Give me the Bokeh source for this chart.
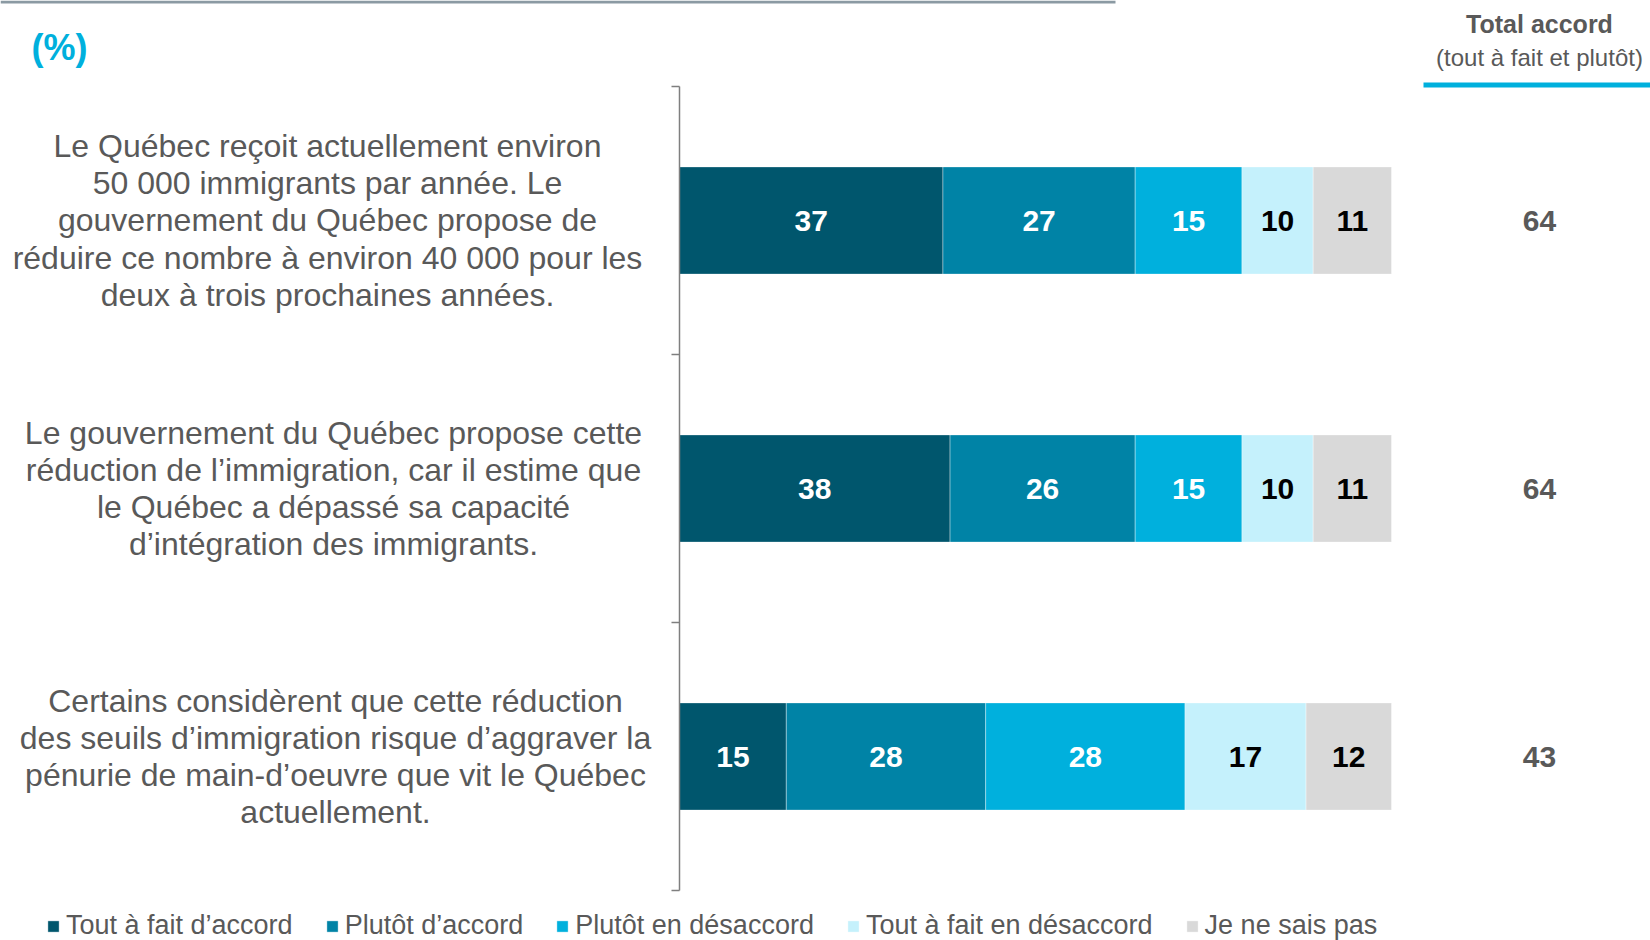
import numpy as np
from bokeh.plotting import figure
from bokeh.models import ColumnDataSource, Range1d, LinearAxis, FixedTicker, Legend, LegendItem
from bokeh.core.properties import value
from bokeh.embed import file_html
from bokeh.resources import INLINE

# ---------------- data ----------------
questions = [
    "Le Québec reçoit actuellement environ\n50 000 immigrants par année. Le\ngouvernement du Québec propose de\nréduire ce nombre à environ 40 000 pour les\ndeux à trois prochaines années.",
    "Le gouvernement du Québec propose cette\nréduction de l’immigration, car il estime que\nle Québec a dépassé sa capacité\nd’intégration des immigrants.",
    "Certains considèrent que cette réduction\ndes seuils d’immigration risque d’aggraver la\npénurie de main-d’oeuvre que vit le Québec\nactuellement.",
]
series_names = ["Tout à fait d’accord", "Plutôt d’accord", "Plutôt en désaccord",
                "Tout à fait en désaccord", "Je ne sais pas"]
tout_accord = [37, 38, 15]
plutot_accord = [27, 26, 28]
plutot_desaccord = [15, 15, 28]
tout_desaccord = [10, 10, 17]
ne_sais_pas = [11, 11, 12]

colors = ["#00566D", "#0083A6", "#00B0DD", "#C5F1FC", "#D9D9D9"]
label_colors = ["#FFFFFF", "#FFFFFF", "#FFFFFF", "#000000", "#000000"]

# ---------------- layout constants ----------------
W, H = 1650, 940
PX_PER_UNIT = 7.12
X0_PX = 679          # pixel where value 0 sits
PX_PER_ROW = 268
TOP_PX = 86          # pixel of y=3
x_start = -X0_PX / PX_PER_UNIT
x_end = (W - X0_PX) / PX_PER_UNIT
y_end = 3 + TOP_PX / PX_PER_ROW
y_start = -(H - TOP_PX - 3 * PX_PER_ROW) / PX_PER_ROW

def ypx(px):
    return y_end - px / PX_PER_ROW

def xpx(px):
    return x_start + px / PX_PER_UNIT

n = len(questions)
ypos = [n - 0.5 - i for i in range(n)]

keys = ["s0", "s1", "s2", "s3", "s4"]
series = [tout_accord, plutot_accord, plutot_desaccord, tout_desaccord, ne_sais_pas]
data = {"y": ypos}
for k, s in zip(keys, series):
    data[k] = s
src = ColumnDataSource(data)

p = figure(width=W, height=H, x_range=Range1d(x_start, x_end), y_range=Range1d(y_start, y_end),
           output_backend="svg", toolbar_location=None, x_axis_location=None, y_axis_location=None,
           min_border=0, outline_line_color=None, title=None)
p.xgrid.visible = False
p.ygrid.visible = False
p.background_fill_color = "white"

renderers = p.hbar_stack(keys, y="y", height=0.4, color=colors, source=src,
                         line_color="white", line_width=0.6, line_alpha=0.6)

# segment labels
arr = np.array(series, dtype=float)
cum = np.cumsum(arr, axis=0)
centers = cum - arr / 2
for i in range(len(series)):
    lsrc = ColumnDataSource(dict(x=centers[i], y=ypos, t=[str(v) for v in series[i]]))
    p.text(x="x", y="y", text="t", source=lsrc, text_align="center", text_baseline="middle",
           text_font=value("Liberation Sans"), text_font_style="bold",
           text_font_size="30px", text_color=label_colors[i])

# totals
totals = [a + b for a, b in zip(tout_accord, plutot_accord)]
tsrc = ColumnDataSource(dict(x=[xpx(1539)] * n, y=ypos, t=[str(v) for v in totals]))
p.text(x="x", y="y", text="t", source=tsrc, text_align="center", text_baseline="middle",
       text_font=value("Liberation Sans"), text_font_style="bold",
       text_font_size="30px", text_color="#595959")

# question labels
qx = [xpx(327), xpx(333), xpx(335)]
qsrc = ColumnDataSource(dict(x=qx, y=ypos, t=questions))
p.text(x="x", y="y", text="t", source=qsrc, text_align="center", text_baseline="middle",
       text_font=value("Liberation Sans"), text_font_size="32px", text_color="#595959",
       text_line_height=1.03)

# axis at 0 with boundary ticks
ax = LinearAxis(fixed_location=0, ticker=FixedTicker(ticks=[0, 1, 2, 3]), bounds=(0, 3))
ax.major_label_overrides = {0: "", 1: "", 2: "", 3: ""}
ax.minor_tick_line_color = None
ax.axis_line_color = "#7F7F7F"
ax.axis_line_width = 1.5
ax.major_tick_line_color = "#7F7F7F"
ax.major_tick_line_width = 1.5
ax.major_tick_out = 8
ax.major_tick_in = 0
p.add_layout(ax, "left")

# decorations: top gray rule, header, underline, (%)
p.quad(left=[x_start], right=[xpx(1115)], top=[y_end], bottom=[ypx(3)], color="#8B9AA3", line_color=None)
p.quad(left=[xpx(1423)], right=[x_end], top=[ypx(82)], bottom=[ypx(87)], color="#00B0DD", line_color=None)
p.text(x=[xpx(1539)], y=[ypx(23)], text=["Total accord"], text_align="center", text_baseline="middle",
       text_font=value("Liberation Sans"), text_font_style="bold", text_font_size="25px",
       text_color="#595959")
p.text(x=[xpx(1539)], y=[ypx(57)], text=["(tout à fait et plutôt)"], text_align="center",
       text_baseline="middle", text_font=value("Liberation Sans"), text_font_size="24px",
       text_color="#595959")
p.text(x=[xpx(31)], y=[ypx(47)], text=["(%)"], text_align="left", text_baseline="middle",
       text_font=value("Liberation Sans"), text_font_style="bold", text_font_size="36px",
       text_color="#00B0DD")

# legend
items = [LegendItem(label=name, renderers=[r]) for name, r in zip(series_names, renderers)]
legend = Legend(items=items, orientation="horizontal", location=(46, -1),
                glyph_width=14, glyph_height=14, label_standoff=6, spacing=32,
                padding=0, margin=0, border_line_color=None, background_fill_alpha=0,
                label_text_font="Liberation Sans", label_text_font_size="27px",
                label_text_color="#595959")
p.add_layout(legend, "center")

open("out.html", "w").write(file_html(p, INLINE))
